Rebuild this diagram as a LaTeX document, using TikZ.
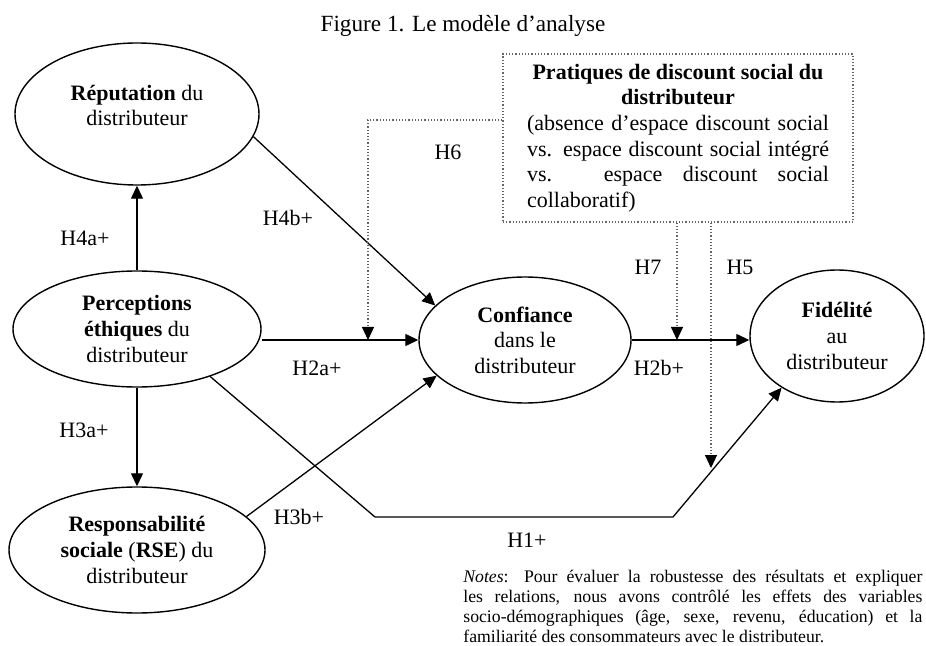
\documentclass[tikz,border=0pt]{standalone}
\usepackage{fontspec}
\setmainfont{Liberation Serif}
\usetikzlibrary{arrows.meta,shapes.geometric,calc}
\begin{document}
\begin{tikzpicture}[x=0.5pt,y=-0.5pt,
  txt/.style={font=\fontsize{11}{12.8}\selectfont},
  constr/.style={txt, draw, ellipse, line width=0.7pt, inner sep=0pt, align=center},
  arr/.style={line width=0.65pt, -{Triangle[length=6.5pt,width=6pt]}},
  dots/.style={densely dotted, line width=0.6pt, draw=black!60},
  darr/.style={dots, -{Triangle[length=6.5pt,width=6pt,color=black]}},
  lab/.style={txt, inner sep=0pt}
]
\fill[white] (0,0) rectangle (926,646);
\useasboundingbox (0,0) rectangle (926,646);

% title
\node[anchor=base, inner sep=0pt, font=\fontsize{11.6}{13}\selectfont] (title) at (463,32) {Figure 1. Le modèle d’analyse};

% constructs
\node[constr, minimum width=122pt, minimum height=71pt] (rep) at (137,114)
  {\textbf{Réputation} du\\distributeur\\[-8pt]\strut};
\node[constr, minimum width=124pt, minimum height=58pt] (per) at (137,329)
  {\textbf{Perceptions}\\\textbf{éthiques} du\\distributeur};
\node[constr, minimum width=128pt, minimum height=63pt] (rse) at (137,550)
  {\textbf{Responsabilité}\\\textbf{sociale} (\textbf{RSE}) du\\distributeur};
\node[constr, minimum width=106pt, minimum height=63pt] (conf) at (525,340)
  {\textbf{Confiance}\\dans le\\distributeur};
\node[constr, minimum width=87pt, minimum height=66pt] (fid) at (837,336)
  {\textbf{Fidélité}\\au\\distributeur};

% moderator box
\node[txt, dots, draw, rectangle, minimum width=175pt, minimum height=84pt,
      text width=151pt, align=justify, inner sep=0pt] (box) at (678,138)
  {{\centering\bfseries Pratiques de discount social du\\distributeur\par}%
   (absence d’espace discount social\linebreak
   vs. espace discount social intégré\linebreak
   vs. espace discount social\linebreak
   collaboratif)};

% coordinates for bends and free ends
\coordinate (h6) at (368,120);
\coordinate (h7) at (677,340);
\coordinate (h5) at (711,468);
\coordinate (h1a) at (375,517);
\coordinate (h1b) at (673,517);

% solid paths
\draw[arr] (per.north) -- (rep.south);
\draw[arr] (per.south) -- (rse.north);
\draw[arr] (rep.-11) -- (conf.159);
\draw[arr] (per.east |- conf.west) -- (conf.west);
\draw[arr] (rse.17) -- (conf.202);
\draw[arr] (conf.east) -- (conf.east -| fid.west);
\draw[arr] (per.-33) -- (h1a) -- (h1b) -- (fid.223);

% dotted moderation paths
\draw[darr] (box.west |- h6) -- (h6) -- (h6 |- conf.west);
\draw[darr] (h7 |- box.south) -- (h7);
\draw[darr] (h5 |- box.south) -- (h5);

% labels
\node[lab] (l4a) at (85,238) {H4a+};
\node[lab] (l3a) at (84,430) {H3a+};
\node[lab] (l4b) at (288,218) {H4b+};
\node[lab] (l6) at (448,152) {H6};
\node[lab] (l2a) at (317,368) {H2a+};
\node[lab] (l3b) at (299,517) {H3b+};
\node[lab] (l1) at (527,540) {H1+};
\node[lab] (l7) at (648,267) {H7};
\node[lab] (l5) at (740,267) {H5};
\node[lab] (l2b) at (659,368) {H2b+};

% notes
\node[anchor=north west, inner sep=0pt, text width=229.5pt, align=justify,
      font=\fontsize{8.85}{9.9}\selectfont] (notes) at (463,570)
  {\hyphenpenalty=10000 \textit{Notes}: Pour évaluer la robustesse des résultats et expliquer\linebreak
   les relations, nous avons contrôlé les effets des variables\linebreak
   socio-démographiques (âge, sexe, revenu, éducation) et la\linebreak
   familiarité des consommateurs avec le distributeur.};
\end{tikzpicture}
\end{document}
